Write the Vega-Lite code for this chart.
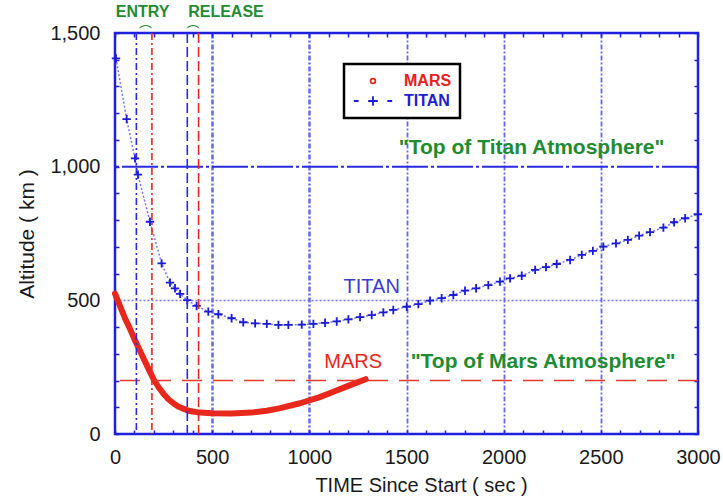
{
  "$schema": "https://vega.github.io/schema/vega-lite/v6.json",
  "width": 583,
  "height": 401,
  "autosize": {"type": "none"},
  "padding": {"left": 115, "top": 33, "right": 25, "bottom": 66},
  "background": "white",
  "config": {
    "view": {"stroke": "#1f1fe0", "strokeWidth": 2.5},
    "font": "Liberation Sans",
    "axis": {
      "labelFont": "Liberation Sans",
      "labelFontSize": 20,
      "labelColor": "#1a1a1a",
      "labelFlush": false,
      "labelOverlap": false,
      "domain": false,
      "tickColor": "#1f1fe0",
      "tickWidth": 1.5,
      "tickSize": 4,
      "titleFont": "Liberation Sans",
      "titleFontWeight": "normal",
      "titleColor": "#1a1a1a"
    }
  },
  "datasets": {
    "titan": [
      {"t": 5, "alt": 1405, "body": "TITAN"},
      {"t": 60, "alt": 1178, "body": "TITAN"},
      {"t": 103, "alt": 1031, "body": "TITAN"},
      {"t": 118, "alt": 970, "body": "TITAN"},
      {"t": 180, "alt": 794, "body": "TITAN"},
      {"t": 240, "alt": 638, "body": "TITAN"},
      {"t": 283, "alt": 566, "body": "TITAN"},
      {"t": 309, "alt": 545, "body": "TITAN"},
      {"t": 335, "alt": 524, "body": "TITAN"},
      {"t": 372, "alt": 501, "body": "TITAN"},
      {"t": 420, "alt": 479, "body": "TITAN"},
      {"t": 480, "alt": 458, "body": "TITAN"},
      {"t": 532, "alt": 448, "body": "TITAN"},
      {"t": 600, "alt": 433, "body": "TITAN"},
      {"t": 660, "alt": 418, "body": "TITAN"},
      {"t": 721, "alt": 414, "body": "TITAN"},
      {"t": 781, "alt": 412, "body": "TITAN"},
      {"t": 841, "alt": 408, "body": "TITAN"},
      {"t": 892, "alt": 408, "body": "TITAN"},
      {"t": 961, "alt": 409, "body": "TITAN"},
      {"t": 1021, "alt": 412, "body": "TITAN"},
      {"t": 1081, "alt": 416, "body": "TITAN"},
      {"t": 1141, "alt": 421, "body": "TITAN"},
      {"t": 1201, "alt": 429, "body": "TITAN"},
      {"t": 1261, "alt": 437, "body": "TITAN"},
      {"t": 1321, "alt": 445, "body": "TITAN"},
      {"t": 1381, "alt": 455, "body": "TITAN"},
      {"t": 1432, "alt": 464, "body": "TITAN"},
      {"t": 1501, "alt": 476, "body": "TITAN"},
      {"t": 1561, "alt": 486, "body": "TITAN"},
      {"t": 1621, "alt": 499, "body": "TITAN"},
      {"t": 1681, "alt": 508, "body": "TITAN"},
      {"t": 1741, "alt": 520, "body": "TITAN"},
      {"t": 1801, "alt": 536, "body": "TITAN"},
      {"t": 1858, "alt": 545, "body": "TITAN"},
      {"t": 1921, "alt": 557, "body": "TITAN"},
      {"t": 1981, "alt": 570, "body": "TITAN"},
      {"t": 2033, "alt": 582, "body": "TITAN"},
      {"t": 2093, "alt": 592, "body": "TITAN"},
      {"t": 2162, "alt": 614, "body": "TITAN"},
      {"t": 2218, "alt": 624, "body": "TITAN"},
      {"t": 2273, "alt": 636, "body": "TITAN"},
      {"t": 2342, "alt": 651, "body": "TITAN"},
      {"t": 2402, "alt": 670, "body": "TITAN"},
      {"t": 2459, "alt": 685, "body": "TITAN"},
      {"t": 2513, "alt": 701, "body": "TITAN"},
      {"t": 2578, "alt": 713, "body": "TITAN"},
      {"t": 2639, "alt": 726, "body": "TITAN"},
      {"t": 2697, "alt": 742, "body": "TITAN"},
      {"t": 2753, "alt": 755, "body": "TITAN"},
      {"t": 2822, "alt": 772, "body": "TITAN"},
      {"t": 2877, "alt": 792, "body": "TITAN"},
      {"t": 2934, "alt": 807, "body": "TITAN"},
      {"t": 2999, "alt": 822, "body": "TITAN"}
    ],
    "mars": [
      {"t": 0, "alt": 525, "body": "MARS"},
      {"t": 25, "alt": 480, "body": "MARS"},
      {"t": 50, "alt": 435, "body": "MARS"},
      {"t": 75, "alt": 397, "body": "MARS"},
      {"t": 100, "alt": 355, "body": "MARS"},
      {"t": 125, "alt": 317, "body": "MARS"},
      {"t": 150, "alt": 278, "body": "MARS"},
      {"t": 175, "alt": 240, "body": "MARS"},
      {"t": 200, "alt": 203, "body": "MARS"},
      {"t": 225, "alt": 174, "body": "MARS"},
      {"t": 250, "alt": 150, "body": "MARS"},
      {"t": 275, "alt": 130, "body": "MARS"},
      {"t": 300, "alt": 115, "body": "MARS"},
      {"t": 325, "alt": 103, "body": "MARS"},
      {"t": 350, "alt": 95, "body": "MARS"},
      {"t": 375, "alt": 88, "body": "MARS"},
      {"t": 400, "alt": 84, "body": "MARS"},
      {"t": 437, "alt": 80, "body": "MARS"},
      {"t": 500, "alt": 78, "body": "MARS"},
      {"t": 600, "alt": 77, "body": "MARS"},
      {"t": 700, "alt": 80, "body": "MARS"},
      {"t": 781, "alt": 87, "body": "MARS"},
      {"t": 850, "alt": 97, "body": "MARS"},
      {"t": 952, "alt": 115, "body": "MARS"},
      {"t": 1050, "alt": 137, "body": "MARS"},
      {"t": 1124, "alt": 158, "body": "MARS"},
      {"t": 1200, "alt": 180, "body": "MARS"},
      {"t": 1290, "alt": 205, "body": "MARS"}
    ],
    "tops": [
      {"body": "TITAN", "alt": 1000},
      {"body": "MARS", "alt": 200}
    ],
    "events": [
      {"t": 110, "body": "TITAN", "event": "ENTRY"},
      {"t": 190, "body": "MARS", "event": "ENTRY"},
      {"t": 372, "body": "TITAN", "event": "RELEASE"},
      {"t": 430, "body": "MARS", "event": "RELEASE"}
    ],
    "notes": [
      {"t": 142, "alt": 1578, "text": "ENTRY", "kind": "event"},
      {"t": 571, "alt": 1578, "text": "RELEASE", "kind": "event"},
      {"t": 157, "alt": 1503, "text": "⌒", "kind": "arc"},
      {"t": 401, "alt": 1503, "text": "⌒", "kind": "arc"},
      {"t": 2144, "alt": 1069, "text": "\"Top of Titan Atmosphere\"", "kind": "top"},
      {"t": 2203, "alt": 270, "text": "\"Top of Mars Atmosphere\"", "kind": "top"},
      {"t": 1321, "alt": 551, "text": "TITAN", "kind": "body"},
      {"t": 1226, "alt": 270, "text": "MARS", "kind": "body"}
    ]
  },
  "resolve": {"axis": {"x": "independent", "y": "independent"}},
  "layer": [
    {
      "data": {"name": "titan"},
      "mark": {"type": "line", "color": "#7878ee", "strokeWidth": 1.5, "strokeDash": [2, 2]},
      "encoding": {
        "x": {
          "field": "t", "type": "quantitative",
          "scale": {"domain": [0, 3000], "nice": false},
          "axis": {
            "orient": "bottom",
            "values": [0, 500, 1000, 1500, 2000, 2500, 3000],
            "format": "d",
            "ticks": false,
            "labelPadding": 13,
            "title": "TIME Since Start ( sec )",
            "titleFontSize": 20,
            "titlePadding": 8,
            "titleX": 306,
            "grid": true,
            "gridColor": "#4c4ce6",
            "gridDash": [5, 2, 2, 2],
            "gridWidth": {"condition": {"test": "datum.value <= 1000", "value": 2.5}, "value": 1.8},
            "gridOpacity": {"condition": {"test": "datum.value === 0 || datum.value === 3000", "value": 0}, "value": 0.85}
          }
        },
        "y": {
          "field": "alt", "type": "quantitative",
          "scale": {"domain": [0, 1500], "nice": false},
          "axis": {
            "orient": "left",
            "values": [0, 500, 1000, 1500],
            "format": ",d",
            "ticks": false,
            "labelPadding": 15,
            "title": "Altitude ( km )",
            "titleFontSize": 21,
            "titlePadding": 12,
            "grid": true,
            "gridColor": "#6a6aee",
            "gridDash": [2, 2],
            "gridWidth": 1.5,
            "gridOpacity": {"condition": {"test": "datum.value !== 500", "value": 0}, "value": 0.9}
          }
        }
      }
    },
    {
      "data": {"name": "mars"},
      "mark": {"type": "line", "strokeWidth": 6, "strokeCap": "round", "strokeJoin": "round"},
      "encoding": {
        "x": {
          "field": "t", "type": "quantitative",
          "scale": {"domain": [0, 3000], "nice": false},
          "axis": {
            "orient": "bottom", "offset": -4, "labels": false, "title": null, "grid": false,
            "values": [0,100,200,300,400,500,600,700,800,900,1000,1100,1200,1300,1400,1500,1600,1700,1800,1900,2000,2100,2200,2300,2400,2500,2600,2700,2800,2900,3000]
          }
        },
        "y": {
          "field": "alt", "type": "quantitative",
          "scale": {"domain": [0, 1500], "nice": false},
          "axis": {
            "orient": "left", "offset": -4, "labels": false, "title": null, "grid": false,
            "values": [0,100,200,300,400,500,600,700,800,900,1000,1100,1200,1300,1400,1500]
          }
        },
        "color": {
          "field": "body", "type": "nominal",
          "scale": {"domain": ["MARS", "TITAN"], "range": ["#e8281c", "#1a1ad8"]},
          "legend": {
            "orient": "none",
            "legendX": 229,
            "legendY": 31,
            "title": null,
            "padding": 8,
            "rowPadding": 3,
            "fillColor": "white",
            "strokeColor": "black",
            "labelFont": "Liberation Sans",
            "labelFontSize": 16,
            "labelFontWeight": "bold",
            "labelOffset": 22,
            "symbolSize": 256,
            "symbolOffset": 12,
            "symbolType": "circle",
            "encode": {
              "legend": {"update": {"strokeWidth": {"value": 2.5}}},
              "labels": {"update": {"fill": {"signal": "datum.value === 'MARS' ? '#e82020' : '#2020d0'"}}},
              "symbols": {"update": {
                "shape": {"signal": "datum.value === 'MARS' ? 'M-0.3,0A0.3,0.3 0 1,0 0.3,0A0.3,0.3 0 1,0 -0.3,0Z' : 'M-2.4,0L-1.8,0M-0.6,0L0.6,0M0,-0.6L0,0.6M1.8,0L2.4,0'"},
                "stroke": {"signal": "datum.value === 'MARS' ? '#e8281c' : '#1a1ad8'"},
                "fill": {"value": "transparent"},
                "strokeWidth": {"value": 1.8},
                "size": {"value": 256},
                "opacity": {"value": 1}
              }}
            }
          }
        }
      }
    },
    {
      "data": {"name": "titan"},
      "mark": {"type": "point", "shape": "M-1,0L1,0M0,-1L0,1", "size": 70, "strokeWidth": 1.8, "filled": false, "opacity": 1, "color": "#1a1ad8"},
      "encoding": {
        "x": {"field": "t", "type": "quantitative", "scale": {"domain": [0, 3000], "nice": false}, "axis": null},
        "y": {"field": "alt", "type": "quantitative", "scale": {"domain": [0, 1500], "nice": false}, "axis": null}
      }
    },
    {
      "data": {"name": "tops"},
      "transform": [{"filter": "datum.body === 'TITAN'"}],
      "mark": {"type": "rule", "color": "#2a2ae0", "strokeWidth": 2, "strokeDash": [36, 3, 3, 3]},
      "encoding": {
        "y": {
          "field": "alt", "type": "quantitative",
          "scale": {"domain": [0, 1500], "nice": false},
          "axis": {
            "orient": "right", "offset": -4, "labels": false, "title": null, "grid": false,
            "values": [0,100,200,300,400,500,600,700,800,900,1000,1100,1200,1300,1400,1500]
          }
        }
      }
    },
    {
      "data": {"name": "tops"},
      "transform": [{"filter": "datum.body === 'MARS'"}],
      "mark": {"type": "rule", "color": "#e53a2a", "strokeWidth": 1.6, "strokeDash": [20, 11]},
      "encoding": {
        "y": {"field": "alt", "type": "quantitative", "scale": {"domain": [0, 1500], "nice": false}, "axis": null}
      }
    },
    {
      "data": {"name": "events"},
      "mark": {"type": "rule", "strokeWidth": 1.6},
      "encoding": {
        "x": {
          "field": "t", "type": "quantitative",
          "scale": {"domain": [0, 3000], "nice": false},
          "axis": {
            "orient": "top", "offset": -4, "labels": false, "title": null, "grid": false,
            "values": [0,100,200,300,400,500,600,700,800,900,1000,1100,1200,1300,1400,1500,1600,1700,1800,1900,2000,2100,2200,2300,2400,2500,2600,2700,2800,2900,3000]
          }
        },
        "color": {"condition": {"test": "datum.body === 'MARS'", "value": "#e8281c"}, "value": "#2a2ae0"},
        "strokeDash": {
          "field": "event", "type": "nominal",
          "scale": {"domain": ["ENTRY", "RELEASE"], "range": [[7, 3, 2, 3], [10, 4]]},
          "legend": null
        }
      }
    },
    {
      "data": {"name": "notes"},
      "transform": [{"filter": "datum.kind === 'event'"}],
      "mark": {"type": "text", "font": "Liberation Sans", "fontSize": 16, "fontWeight": "bold", "color": "#1f8c32", "baseline": "middle"},
      "encoding": {
        "x": {"field": "t", "type": "quantitative", "scale": {"domain": [0, 3000], "nice": false}, "axis": null},
        "y": {"field": "alt", "type": "quantitative", "scale": {"domain": [0, 1500], "nice": false}, "axis": null},
        "text": {"field": "text"}
      }
    },
    {
      "data": {"name": "notes"},
      "transform": [{"filter": "datum.kind === 'arc'"}],
      "mark": {"type": "text", "font": "Noto Sans CJK JP", "fontSize": 13, "color": "#1f8c32", "baseline": "middle"},
      "encoding": {
        "x": {"field": "t", "type": "quantitative", "scale": {"domain": [0, 3000], "nice": false}, "axis": null},
        "y": {"field": "alt", "type": "quantitative", "scale": {"domain": [0, 1500], "nice": false}, "axis": null},
        "text": {"field": "text"}
      }
    },
    {
      "data": {"name": "notes"},
      "transform": [{"filter": "datum.kind === 'top'"}],
      "mark": {"type": "text", "font": "Liberation Sans", "fontSize": 21, "fontWeight": "bold", "color": "#1f8c32", "baseline": "middle"},
      "encoding": {
        "x": {"field": "t", "type": "quantitative", "scale": {"domain": [0, 3000], "nice": false}, "axis": null},
        "y": {"field": "alt", "type": "quantitative", "scale": {"domain": [0, 1500], "nice": false}, "axis": null},
        "text": {"field": "text"}
      }
    },
    {
      "data": {"name": "notes"},
      "transform": [{"filter": "datum.kind === 'body'"}],
      "mark": {"type": "text", "font": "Liberation Sans", "fontSize": 20, "baseline": "middle"},
      "encoding": {
        "x": {"field": "t", "type": "quantitative", "scale": {"domain": [0, 3000], "nice": false}, "axis": null},
        "y": {"field": "alt", "type": "quantitative", "scale": {"domain": [0, 1500], "nice": false}, "axis": null},
        "text": {"field": "text"},
        "color": {"condition": {"test": "datum.text === 'MARS'", "value": "#e8281c"}, "value": "#3c3ccc"}
      }
    }
  ]
}
